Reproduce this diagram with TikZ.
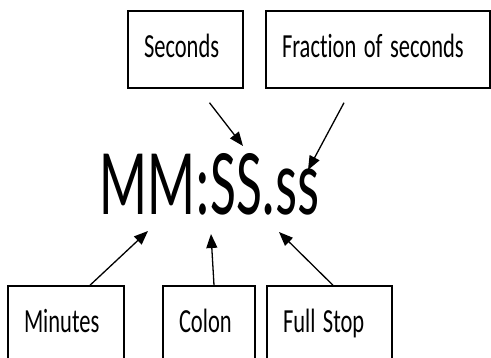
\documentclass[tikz,border=0pt]{standalone}
\usepackage{fontspec}
\setmainfont{Carlito}[Ligatures=NoCommon]
\usetikzlibrary{arrows.meta,calc}
\tikzset{
  lbox/.style={draw=black, line width=1.5pt, rectangle, align=left,
    inner xsep=16pt, inner ysep=0pt, minimum height=77pt,
    text height=22pt, text depth=5pt,
    font=\fontsize{22.5}{26}\selectfont},
  arr/.style={line width=1.3pt, -{Triangle[length=14pt,width=11pt]}},
}
\newcommand{\tall}[1]{\scalebox{1}[1.5]{#1}}
\begin{document}
\begin{tikzpicture}[x=1pt,y=1pt]
\useasboundingbox (0,0) rectangle (491,358);
\clip (0,0) rectangle (491,358);
\fill[white] (0,0) rectangle (491,358);
% top boxes
\node[lbox, text width=83pt] (sec) at (185.5,308.5) {\tall{Seconds}};
\node[lbox, text width=192pt] (frac) at (378,308.5) {\tall{Fract\kern0pt ion of seconds}};
% bottom boxes
\node[lbox, text width=84pt, minimum height=76pt] (min) at (66,34) {\tall{Minutes}};
\node[lbox, text width=60pt, minimum height=76pt] (col) at (209,34) {\tall{Colon}};
\node[lbox, text width=93pt, minimum height=76pt] (fst) at (329.5,34) {\tall{Full Stop}};
% main text
\node[anchor=base west, inner sep=0pt] (fmt) at (99.5,143)
  {\scalebox{1}[1.68]{\fontsize{56}{60}\selectfont MM:SS.ss}};
% arrow coordinates
\coordinate (secA) at ([xshift=24pt,yshift=-14pt]sec.south);
\coordinate (fracA) at ([xshift=-34pt,yshift=-14pt]frac.south);
\coordinate (secT) at (243,212);
\coordinate (fracT) at (308,188);
\coordinate (minT) at (148,127);
\coordinate (colT) at (211,124);
\coordinate (fstT) at (279,126);
\draw[arr] (secA) -- (secT);
\draw[arr] (fracA) -- (fracT);
\draw[arr] ([xshift=24pt]min.north) -- (minT);
\draw[arr] ([xshift=5pt]col.north) -- (colT);
\draw[arr] ([xshift=3.5pt]fst.north) -- (fstT);
\end{tikzpicture}
\end{document}
